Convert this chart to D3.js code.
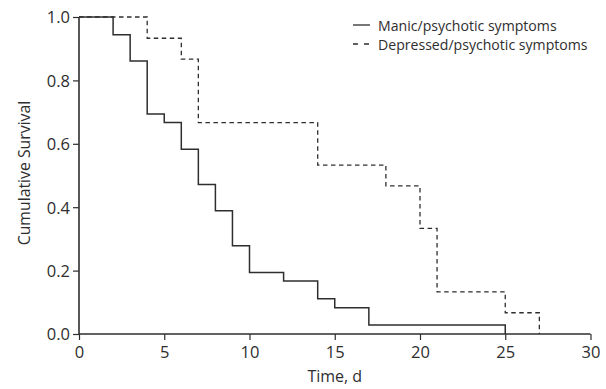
<!DOCTYPE html>
<html>
<head>
<meta charset="utf-8">
<script src="https://cdn.jsdelivr.net/npm/d3@7"></script>
<style>
  html, body { margin: 0; padding: 0; background: #fff; }
  svg { display: block; font-family: "Open Sans", "Noto Sans", sans-serif; }
</style>
</head>
<body>
<svg id="chart" width="606" height="389"></svg>
<script>
// Kaplan-Meier step data (time in days, survival after the step)
const manicTimes    = [0, 2, 3, 4, 5, 6, 7, 8, 9, 10, 12, 14, 15, 17, 25];
const manicSurvival = [1.0, 0.944, 0.861, 0.694, 0.667, 0.583, 0.472, 0.389, 0.278, 0.194, 0.167, 0.111, 0.083, 0.028, 0.0];
const depTimes      = [0, 4, 6, 7, 14, 18, 20, 21, 25, 27];
const depSurvival   = [1.0, 0.933, 0.867, 0.667, 0.533, 0.467, 0.333, 0.133, 0.067, 0.0];
const xTicks = [0, 5, 10, 15, 20, 25, 30];
const yTicks = [0.0, 0.2, 0.4, 0.6, 0.8, 1.0];
const seriesNames = ["Manic/psychotic symptoms", "Depressed/psychotic symptoms"];

const svg = d3.select("#chart");
const ink = "#2e2e2e";
const x = d3.scaleLinear().domain([0, 30]).range([79, 590.5]);
const y = d3.scaleLinear().domain([0, 1]).range([334, 17]);

const line = d3.line().x(d => x(d[0])).y(d => y(d[1])).curve(d3.curveStepAfter);

// axes
const xAxis = d3.axisBottom(x).tickValues(xTicks).tickSize(6).tickFormat(d3.format("d"));
const yAxis = d3.axisLeft(y).tickValues(yTicks).tickSize(6).tickFormat(d3.format(".1f"));

const gx = svg.append("g").attr("transform", `translate(0,${y(0)})`).call(xAxis);
const gy = svg.append("g").attr("transform", `translate(${x(0)},0)`).call(yAxis);
[gx, gy].forEach(g => {
  g.attr("font-size", null).attr("font-family", null);
  g.select(".domain").attr("stroke", ink).attr("stroke-width", 1.6);
  g.selectAll(".tick line").attr("stroke", ink).attr("stroke-width", 1.2);
  g.selectAll(".tick text").attr("fill", ink).style("font-size", "16.5px");
});
gx.select(".domain").attr("d", `M${x(0)},0H${x(30)}`);
gy.select(".domain").attr("d", `M0,${y(0)}V${y(1)}`);
gx.selectAll(".tick text").attr("dy", null).attr("y", 24);
gy.selectAll(".tick text").attr("x", -9).attr("dy", "0.36em");

// curves
svg.append("path").datum(depTimes.map((t, i) => [t, depSurvival[i]]))
  .attr("d", line).attr("fill", "none").attr("stroke", ink)
  .attr("stroke-width", 1.3).attr("stroke-dasharray", "4.5,3.5");
svg.append("path").datum(manicTimes.map((t, i) => [t, manicSurvival[i]]))
  .attr("d", line).attr("fill", "none").attr("stroke", ink)
  .attr("stroke-width", 1.5);

// axis titles
svg.append("text").attr("x", x(15)).attr("y", 382).attr("text-anchor", "middle")
  .attr("fill", ink).style("font-size", "16px").text("Time, d");
svg.append("text").attr("transform", `translate(30,173) rotate(-90)`)
  .attr("text-anchor", "middle").attr("fill", ink).style("font-size", "15.8px")
  .text("Cumulative Survival");

// legend
const leg = svg.append("g");
seriesNames.forEach((name, i) => {
  const ly = 25 + i * 19;
  leg.append("line").attr("x1", 353).attr("x2", 370).attr("y1", ly).attr("y2", ly)
    .attr("stroke", ink).attr("stroke-width", 1.3)
    .attr("stroke-dasharray", i === 1 ? "5,6" : null);
  leg.append("text").attr("x", 378).attr("y", ly + 5.5).attr("fill", ink)
    .style("font-size", "14.1px").text(name);
});
</script>
</body>
</html>
